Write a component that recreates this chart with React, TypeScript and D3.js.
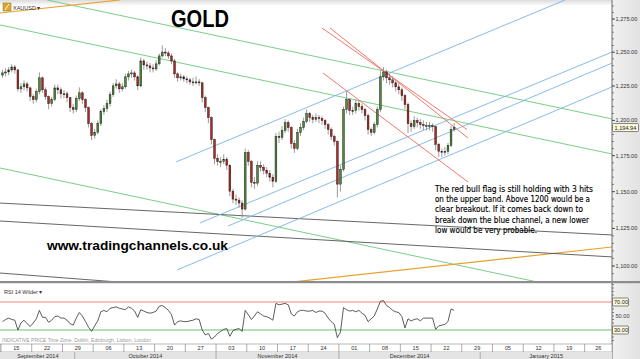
import React from "react";
import * as d3 from "d3";

const W = 640;
const H = 359;

// ---- price data (half-day bars, starting Mon 15 Sep 2014) ----
const firstOpen = 1233.0;
const closes = [
  1234.6, 1235.3, 1236.8, 1239.0, 1236.8, 1222.9, 1224.4, 1226.5, 1223.6, 1217.2,
  1215.0, 1220.8, 1231.0, 1222.2, 1217.2, 1212.1, 1215.0, 1223.6, 1222.2, 1219.3,
  1219.3, 1216.4, 1209.2, 1207.8, 1215.7, 1220.0, 1215.0, 1209.2, 1197.7, 1189.3,
  1191.4, 1197.7, 1206.4, 1208.5, 1212.1, 1218.6, 1225.1, 1226.5, 1222.9, 1224.4,
  1231.7, 1233.9, 1234.6, 1231.7, 1225.1, 1243.5, 1240.5, 1239.8, 1238.3, 1237.6,
  1241.3, 1247.2, 1250.1, 1249.4, 1247.2, 1243.5, 1233.9, 1231.0, 1231.7, 1230.2,
  1229.5, 1228.0, 1228.0, 1228.0, 1227.3, 1216.4, 1209.2, 1202.0, 1186.4, 1173.1,
  1171.0, 1171.0, 1172.4, 1168.3, 1150.3, 1144.9, 1144.2, 1142.2, 1138.1, 1177.3,
  1171.0, 1156.5, 1155.9, 1168.3, 1166.9, 1164.8, 1162.7, 1160.0, 1157.2, 1188.6,
  1187.8, 1192.8, 1198.4, 1194.9, 1183.6, 1180.1, 1191.4, 1194.9, 1199.2, 1204.9,
  1202.0, 1200.6, 1202.0, 1201.3, 1199.9, 1197.0, 1193.5, 1188.6, 1185.0, 1155.2,
  1165.5, 1207.8, 1215.0, 1207.1, 1207.1, 1212.1, 1210.0, 1207.8, 1203.5, 1193.5,
  1191.4, 1197.0, 1207.8, 1231.7, 1235.3, 1231.0, 1229.5, 1227.3, 1224.4, 1222.2,
  1217.9, 1211.4, 1197.7, 1195.6, 1199.9, 1198.4, 1197.0, 1196.3, 1196.3, 1196.3,
  1195.6, 1182.9, 1178.0, 1177.3, 1178.0, 1182.2, 1193.5, 1194.94,
];
const highs = [
  1237, 1238, 1239, 1241, 1240.5, 1237.5, 1227, 1229, 1228, 1224.5,
  1219, 1223, 1235, 1232, 1224, 1218, 1217, 1226, 1226, 1224,
  1222, 1221, 1217, 1212, 1218, 1224, 1221, 1216, 1210, 1199,
  1194, 1200, 1208, 1211, 1215, 1221, 1227, 1230, 1228, 1227,
  1234, 1236, 1237, 1236, 1233, 1246, 1245, 1243, 1242, 1241,
  1244, 1249, 1255, 1253, 1251, 1249, 1245, 1235, 1234, 1233,
  1232, 1231, 1231, 1232, 1230, 1228, 1218, 1210, 1203, 1187,
  1176, 1174, 1176, 1174, 1169, 1152, 1148, 1146, 1144, 1180,
  1179, 1172, 1160, 1171, 1171, 1169, 1167, 1165, 1162, 1191,
  1192, 1196, 1201, 1200, 1196, 1186, 1194, 1198, 1202, 1208,
  1206, 1204, 1205, 1204, 1203, 1201, 1198, 1195, 1190, 1186,
  1168, 1210, 1221, 1216, 1210, 1215, 1214, 1212, 1209, 1205,
  1195, 1199, 1210, 1236, 1239, 1237, 1234, 1232, 1229, 1227,
  1224, 1219, 1213, 1200, 1203, 1202, 1201, 1200, 1199, 1199,
  1198, 1196, 1184, 1180, 1181, 1184, 1196, 1198,
];
const lows = [
  1231, 1232, 1233, 1235, 1234, 1221, 1220, 1222, 1221, 1214,
  1212, 1213, 1219, 1220, 1215, 1208, 1210, 1214, 1219, 1216,
  1216, 1213, 1206, 1205, 1206, 1214, 1212, 1206, 1195, 1186,
  1187, 1190, 1196, 1204, 1206, 1210, 1217, 1223, 1220, 1221,
  1223, 1229, 1231, 1229, 1222, 1224, 1237, 1237, 1235, 1235,
  1236, 1240, 1246, 1247, 1245, 1241, 1231, 1228, 1229, 1228,
  1227, 1226, 1225, 1226, 1225, 1213, 1206, 1198, 1183, 1169,
  1168, 1167, 1169, 1165, 1147, 1142, 1141, 1139, 1132, 1137,
  1168, 1153, 1152, 1154, 1164, 1162, 1160, 1157, 1153, 1156,
  1184, 1186, 1191, 1192, 1180, 1177, 1179, 1189, 1193, 1198,
  1199, 1198, 1199, 1198, 1197, 1194, 1190, 1186, 1182, 1146,
  1150, 1164, 1205, 1204, 1204, 1205, 1207, 1205, 1200, 1190,
  1189, 1190, 1195, 1206, 1229, 1227, 1226, 1224, 1221, 1219,
  1214, 1208, 1191, 1192, 1194, 1195, 1194, 1193, 1193, 1193,
  1192, 1179, 1174, 1174, 1175, 1176, 1181, 1192,
];
const rsiValues = [
  42, 45, 47, 45, 44, 30, 40, 44, 39, 35, 40, 46, 58, 48, 48, 41, 44, 49, 50, 47,
  47, 44, 39, 37, 47, 55, 50, 42, 34, 28, 36, 43, 56, 58, 56, 61, 62, 63, 61, 60,
  59, 63, 61, 57, 48, 59, 57, 55, 54, 55, 57, 64, 65, 62, 58, 52, 37, 42, 43, 42,
  42, 43, 44, 46, 45, 30, 23, 25, 17, 20, 25, 28, 31, 32, 21, 29, 31, 32, 28, 58,
  52, 45, 50, 56, 53, 50, 49, 47, 44, 68, 66, 67, 68, 66, 53, 50, 56, 58, 58, 57,
  57, 58, 55, 57, 57, 54, 47, 42, 38, 19, 27, 62, 59, 57, 58, 56, 58, 54, 51, 42,
  46, 50, 60, 71, 72, 65, 62, 58, 56, 55, 49, 33, 46, 43, 45, 46, 43, 47, 47, 47,
  47, 31, 36, 37, 38, 42, 60, 58,
];

// ---- axes ----
const priceTicks = [1100, 1125, 1150, 1175, 1200, 1225, 1250, 1275];
const rsiLevels = [70, 50, 30];
const lastPrice = 1194.94;
const weekLabels = ["15", "22", "29", "06", "13", "20", "27", "03", "10", "17", "24",
  "01", "08", "15", "22", "29", "05", "12", "19", "26"];
const monthLabels = ["September 2014", "October 2014", "November 2014", "December 2014", "January 2015"];
const monthStarts = [0, 12, 35, 55, 78];
const dayEnd = 99.45;

// ---- drawn trendlines: [tradingDay, price] pairs ----
const greenLines = [
  [[7.49, 1289.6], [99.45, 1201.1]],
  [[-0.16, 1270.5], [99.45, 1176.2]],
  [[-0.16, 1166.4], [87.24, 1089.6]],
];
const orangeLines = [
  [[-0.16, 1279.6], [19.37, 1289.6]],
  [[47.53, 1089.6], [99.45, 1112.6]],
];
const greyLines = [
  [[-0.16, 1142.2], [99.45, 1120.6]],
  [[-0.16, 1130.0], [99.45, 1106.0]],
  [[-0.16, 1095.4], [18.88, 1089.6]],
];
const blueLines = [
  [[28.48, 1170.6], [91.8, 1289.6]],
  [[32.39, 1128.7], [99.45, 1250.1]],
  [[36.95, 1126.6], [99.45, 1241.9]],
  [[28.65, 1097.4], [99.45, 1224.3]],
];
const redLines = [
  [[52.25, 1268.2], [75.85, 1193.5]],
  [[53.55, 1268.2], [76.01, 1187.5]],
  [[52.41, 1234.5], [76.01, 1156.7]],
];

const noteLines = [
  "The red bull flag is still holding with 3 hits",
  "on the upper band. Above 1200 would be a",
  "clear breakout. If it comes back down to",
  "break down the blue channel, a new lower",
  "low would be very probable.",
];
const noteWidths = [158, 155, 148, 154, 102];

const SANS = "'Liberation Sans', Arial, sans-serif";

export default function App() {
  const x = d3.scaleLinear().domain([0, dayEnd]).range([1, 612]);
  const y = d3.scaleLog().domain([1090.2, 1289.6]).range([281, 0]);
  const ry = d3.scaleLinear().domain([0, 100]).range([351, 281]);
  const opens = closes.map((c, i) => (i === 0 ? firstOpen : closes[i - 1]));
  const bx = (i: number) => x(i / 2 + 0.25);
  const seg = d3.line<number[]>().x((d) => x(d[0])).y((d) => y(d[1]));
  const rsiPath = d3.line<number>().x((_, i) => bx(i)).y((v) => ry(v))(rsiValues) || "";
  const fmt = d3.format(",.2f");
  const minorPrice = d3.range(1095, 1290, 5);
  const minorRsi = d3.range(15, 100, 5);

  const drawLines = (arr: number[][][], color: string, w = 0.9) =>
    arr.map((l, i) => (
      <path key={color + i} d={seg(l) || ""} stroke={color} strokeWidth={w} fill="none" />
    ));

  return (
    <svg width={W} height={H} style={{ position: "absolute", left: 0, top: 0, background: "#fff" }}
      fontFamily={SANS}>
      <defs>
        <clipPath id="main"><rect x={0} y={0} width={612} height={281} /></clipPath>
        <clipPath id="rsi"><rect x={0} y={284} width={612} height={59} /></clipPath>
        <linearGradient id="topg" x1="0" y1="0" x2="0" y2="1">
          <stop offset="0" stopColor="#dcdcdc" />
          <stop offset="1" stopColor="#ffffff" />
        </linearGradient>
        <linearGradient id="axg" x1="0" y1="0" x2="1" y2="0">
          <stop offset="0" stopColor="#f0f0f0" />
          <stop offset="1" stopColor="#e2e2e2" />
        </linearGradient>
      </defs>

      {/* backgrounds */}
      <rect x={0} y={0} width={612} height={6} fill="url(#topg)" />
      <rect x={612} y={0} width={28} height={359} fill="url(#axg)" />

      {/* trendlines */}
      <g clipPath="url(#main)">
        {drawLines(greenLines, "#6cc77a")}
        {drawLines(orangeLines, "#e8a02a", 1.2)}
        {drawLines(greyLines, "#555555", 0.9)}
        {drawLines(blueLines, "#7ab4e6")}
        {drawLines(redLines, "#f06a5e")}
      </g>

      {/* candles */}
      <g clipPath="url(#main)">
        {closes.map((c, i) => {
          const o = opens[i];
          const up = c >= o;
          const top = y(Math.max(o, c));
          const bot = y(Math.min(o, c));
          const cx = bx(i);
          return (
            <g key={i}>
              <line x1={cx} x2={cx} y1={y(highs[i])} y2={y(lows[i])} stroke="#8f8f8f" strokeWidth={0.9} />
              <rect x={cx - 0.9} y={top} width={1.8} height={Math.max(1, bot - top)}
                fill={up ? "#4e8a34" : "#b3261e"} stroke="#1a1a1a" strokeWidth={0.45} />
            </g>
          );
        })}
      </g>

      {/* header */}
      <rect x={3} y={3} width={8} height={8} fill="#e8a02a" stroke="#7a9a3a" strokeWidth={0.6} />
      <path d="M5,10 L9,4" stroke="#fff" strokeWidth={1} />
      <text x={13} y={9.5} fontSize={5.5} fill="#333">XAUUSD ▾</text>

      {/* titles and notes */}
      <text x={171} y={27} fontSize={24} fontWeight="bold" fill="#000" textLength={58}
        lengthAdjust="spacingAndGlyphs" fontFamily="'Liberation Sans Narrow', 'Liberation Sans', Arial">GOLD</text>
      <text x={47} y={249.5} fontSize={12.5} fontWeight="bold" fill="#000" textLength={181}
        lengthAdjust="spacingAndGlyphs">www.tradingchannels.co.uk</text>
      {noteLines.map((t, i) => (
        <text key={i} x={435} y={192 + i * 10.2} fontSize={9} fill="#000" stroke="#000" strokeWidth={0.15}
          textLength={noteWidths[i]} lengthAdjust="spacingAndGlyphs"
          fontFamily="'DejaVu Sans Condensed', 'DejaVu Sans', sans-serif">{t}</text>
      ))}

      {/* price axis */}
      <line x1={612} x2={612} y1={0} y2={359} stroke="#6a6a6a" strokeWidth={1} />
      {minorPrice.map((p) => (
        <line key={p} x1={612} x2={614} y1={y(p)} y2={y(p)} stroke="#555" strokeWidth={0.7} />
      ))}
      {priceTicks.map((p) => (
        <g key={p}>
          <line x1={612} x2={615} y1={y(p)} y2={y(p)} stroke="#444" strokeWidth={0.8} />
          <text x={615.5} y={y(p) + 2} fontSize={5.6} fill="#333">{fmt(p)}</text>
        </g>
      ))}
      <rect x={612.5} y={y(lastPrice) - 4} width={26} height={8} fill="#fbf8dc" stroke="#555" strokeWidth={0.7} rx={1} />
      <text x={614.5} y={y(lastPrice) + 2} fontSize={5.6} fill="#222">{fmt(lastPrice)}</text>

      {/* separator */}
      <rect x={0} y={281} width={640} height={2.2} fill="#8c8c8c" />

      {/* RSI panel */}
      <text x={4} y={293.5} fontSize={5.5} fill="#333">RSI 14 Wilder ▾</text>
      <line x1={0} x2={612} y1={ry(70)} y2={ry(70)} stroke="#f4826f" strokeWidth={1} />
      <line x1={0} x2={612} y1={ry(30)} y2={ry(30)} stroke="#6cbf6c" strokeWidth={1} />
      <g clipPath="url(#rsi)">
        <path d={rsiPath} fill="none" stroke="#333" strokeWidth={0.8} />
      </g>
      {minorRsi.map((v) => (
        ry(v) > 284 && ry(v) < 343 ? (
          <line key={v} x1={612} x2={614} y1={ry(v)} y2={ry(v)} stroke="#555" strokeWidth={0.7} />
        ) : null
      ))}
      {rsiLevels.map((v) => (
        v === 50 ? (
          <text key={v} x={615.5} y={ry(v) + 2} fontSize={5.6} fill="#444">{fmt(v)}</text>
        ) : (
          <g key={v}>
            <rect x={612.5} y={ry(v) - 4} width={16} height={8} fill="#fbf8dc" stroke="#555" strokeWidth={0.7} rx={1} />
            <text x={614} y={ry(v) + 2} fontSize={5.6} fill="#222">{fmt(v)}</text>
          </g>
        )
      ))}
      <text x={2} y={342} fontSize={5} fill="#9a9a9a">INDICATIVE PRICE   Time Zone: Dublin, Edinburgh, Lisbon, London</text>

      {/* date axis */}
      <rect x={0} y={344} width={612} height={8} fill="#fff" stroke="#888" strokeWidth={0.6} />
      {weekLabels.map((l, k) => {
        const x0 = x(k * 5);
        const x1 = Math.min(x((k + 1) * 5), 612);
        return (
          <g key={k}>
            <line x1={x0} x2={x0} y1={344} y2={352} stroke="#777" strokeWidth={0.6} />
            <text x={(x0 + x1) / 2} y={350.3} fontSize={5.6} fill="#333" textAnchor="middle">{l}</text>
          </g>
        );
      })}
      <rect x={0} y={352} width={612} height={7} fill="#e4e4e4" />
      {monthLabels.map((m, k) => {
        const x0 = x(monthStarts[k]);
        const x1 = k + 1 < monthStarts.length ? x(monthStarts[k + 1]) : 612;
        return (
          <g key={m}>
            {k > 0 && <line x1={x0} x2={x0} y1={352} y2={359} stroke="#888" strokeWidth={0.6} />}
            <text x={(x0 + x1) / 2} y={357.8} fontSize={5.6} fill="#333" textAnchor="middle">{m}</text>
          </g>
        );
      })}
    </svg>
  );
}
